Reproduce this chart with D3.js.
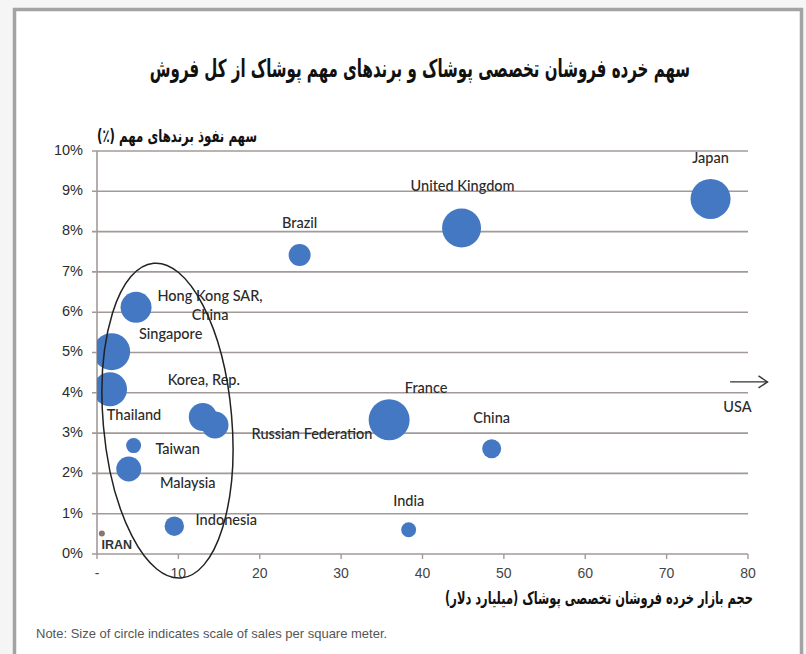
<!DOCTYPE html>
<html>
<head>
<meta charset="utf-8">
<script src="https://cdn.jsdelivr.net/npm/d3@7"></script>
<style>
  body { margin: 0; background: #f5f5f5; }
  svg { display: block; }
</style>
</head>
<body>
<div id="chart"></div>
<script>
/* CONSTANTS AND GLOBALS */
const width = 806, height = 654;
const plot = { left: 97, right: 748, top: 151, bottom: 554 };

/* DATA */
const countries = ["Japan", "United Kingdom", "Brazil", "France", "China", "India",
  "Hong Kong SAR, China", "Singapore", "Thailand", "Korea, Rep.", "Russian Federation",
  "Taiwan", "Malaysia", "Indonesia", "IRAN"];
// apparel specialty retail market size (billion $)
const marketSize = [75.4, 44.8, 24.9, 35.9, 48.5, 38.3, 4.8, 1.8, 1.6, 13.0, 14.5, 4.5, 3.9, 9.5, 0.6];
// share of major brands (%)
const brandShare = [8.81, 8.09, 7.42, 3.33, 2.61, 0.60, 6.12, 5.02, 4.09, 3.40, 3.20, 2.69, 2.11, 0.69, 0.51];
// sales per square meter (relative, drives circle area)
const salesPerSqm = [400, 380, 121, 420, 90, 56, 240, 342, 289, 196, 182, 56, 156, 94, 9];

const xTicks = [0, 10, 20, 30, 40, 50, 60, 70, 80];
const xTickLabels = ["-", "10", "20", "30", "40", "50", "60", "70", "80"];
const yTicks = [0, 1, 2, 3, 4, 5, 6, 7, 8, 9, 10];

const title = "سهم خرده فروشان تخصصی پوشاک و برندهای مهم پوشاک از کل فروش";
const yTitle = "سهم نفوذ برندهای مهم (٪)";
const xTitle = "حجم بازار خرده فروشان تخصصی پوشاک (میلیارد دلار)";
const note = "Note: Size of circle indicates scale of sales per square meter.";

const data = countries.map((c, i) => ({
  name: c, x: marketSize[i], y: brandShare[i], s: salesPerSqm[i]
}));

// label placement relative to the bubble (px)
const labelPos = {
  "Japan": [0, -40], "United Kingdom": [1, -41], "Brazil": [0, -31],
  "France": [37, -31], "China": [0, -30], "India": [0, -28],
  "Hong Kong SAR, China": [74, -10], "Singapore": [59, -17], "Thailand": [24, 27],
  "Korea, Rep.": [1, -36], "Russian Federation": [97, 10], "Taiwan": [44, 4.5],
  "Malaysia": [59, 15], "Indonesia": [52, -5], "IRAN": [15, 12.5]
};

/* SCALES */
const xScale = d3.scaleLinear().domain([0, 80]).range([plot.left, plot.right]);
const yScale = d3.scaleLinear().domain([0, 10]).range([plot.bottom, plot.top]);
const rScale = d3.scaleSqrt().domain([0, 420]).range([0, 20.5]);

/* ELEMENTS */
const svg = d3.select("#chart").append("svg")
  .attr("width", width)
  .attr("height", height);

// frame
svg.append("rect")
  .attr("x", 14.5).attr("y", 9.5)
  .attr("width", 787).attr("height", 670)
  .attr("fill", "white")
  .attr("stroke", "#a3a3a3")
  .attr("stroke-width", 3.5);

svg.append("clipPath").attr("id", "plotclip")
  .append("rect")
  .attr("x", plot.left).attr("y", plot.top - 30)
  .attr("width", plot.right - plot.left).attr("height", plot.bottom - plot.top + 30);

// persian text: fit to a width, then stretch up so it looks like the original face
function persian(txt, cx, cy, targetWidth, stretch) {
  const g = svg.append("g")
    .attr("transform", `translate(${cx},${cy}) scale(1,${stretch})`);
  const t = g.append("text")
    .attr("text-anchor", "middle")
    .attr("dominant-baseline", "middle")
    .attr("direction", "rtl")
    .attr("font-family", "DejaVu Sans")
    .attr("font-weight", "bold")
    .attr("font-size", 20)
    .attr("fill", "#111")
    .text(txt);
  const len = t.node().getComputedTextLength();
  t.attr("font-size", 20 * targetWidth / len);
}

persian(title, 420, 70, 540, 1.65);
persian(yTitle, 177, 137, 160, 1.5);
persian(xTitle, 599, 599, 308, 1.55);

svg.append("text")
  .attr("x", 36).attr("y", 635)
  .attr("dominant-baseline", "middle")
  .attr("font-family", "Liberation Sans, Arial")
  .attr("font-size", 13)
  .attr("fill", "#555")
  .text(note);

/* GRID + AXES */
svg.selectAll("line.grid")
  .data(yTicks)
  .join("line")
  .attr("class", "grid")
  .attr("x1", plot.left - 5).attr("x2", plot.right)
  .attr("y1", d => yScale(d)).attr("y2", d => yScale(d))
  .attr("stroke", "#a29a98")
  .attr("stroke-width", 1.6);

svg.append("line")
  .attr("x1", plot.left).attr("x2", plot.left)
  .attr("y1", plot.top).attr("y2", plot.bottom)
  .attr("stroke", "#a29a98").attr("stroke-width", 1.6);

svg.selectAll("line.xtick")
  .data(xTicks)
  .join("line")
  .attr("class", "xtick")
  .attr("x1", d => xScale(d)).attr("x2", d => xScale(d))
  .attr("y1", plot.bottom).attr("y2", plot.bottom + 5)
  .attr("stroke", "#a29a98").attr("stroke-width", 1.4);

svg.selectAll("text.ylab")
  .data(yTicks)
  .join("text")
  .attr("class", "ylab")
  .attr("x", 83).attr("y", d => yScale(d))
  .attr("text-anchor", "end")
  .attr("dominant-baseline", "middle")
  .attr("font-family", "Liberation Sans, Arial")
  .attr("font-size", 14.5)
  .attr("fill", "#2b2b2b")
  .text(d => d + "%");

svg.selectAll("text.xlab")
  .data(xTicks)
  .join("text")
  .attr("class", "xlab")
  .attr("x", d => xScale(d)).attr("y", 574)
  .attr("text-anchor", "middle")
  .attr("dominant-baseline", "middle")
  .attr("font-family", "Liberation Sans, Arial")
  .attr("font-size", 14)
  .attr("fill", "#444")
  .text((d, i) => xTickLabels[i]);

/* BUBBLES */
svg.append("g")
  .attr("clip-path", "url(#plotclip)")
  .selectAll("circle")
  .data(data)
  .join("circle")
  .attr("cx", d => xScale(d.x))
  .attr("cy", d => yScale(d.y))
  .attr("r", d => rScale(d.s))
  .attr("fill", d => d.name === "IRAN" ? "#8a7670" : "#4578c2");

/* LABELS */
svg.selectAll("text.label")
  .data(data)
  .join("text")
  .attr("class", "label")
  .attr("x", d => xScale(d.x) + labelPos[d.name][0])
  .attr("y", d => yScale(d.y) + labelPos[d.name][1])
  .attr("text-anchor", "middle")
  .attr("dominant-baseline", "middle")
  .attr("font-family", d => d.name === "IRAN" ? "Liberation Sans, Arial" : "Lato")
  .attr("font-size", d => d.name === "IRAN" ? 12.5 : 14.5)
  .attr("fill", d => d.name === "IRAN" ? "#333" : "#2a2a2a")
  .style("font-weight", d => d.name === "IRAN" ? "bold" : "500")
  .each(function(d) {
    const lines = d.name === "Hong Kong SAR, China" ? ["Hong Kong SAR,", "China"] : [d.name];
    d3.select(this).selectAll("tspan")
      .data(lines)
      .join("tspan")
      .attr("x", xScale(d.x) + labelPos[d.name][0])
      .attr("dy", (l, i) => i === 0 ? 0 : 19)
      .text(l => l);
  });

/* ANNOTATIONS */
// ellipse round the small markets
const ell = { x: 8.66, y: 3.31, rx: 7.9, ry: 3.92 };
svg.append("ellipse")
  .attr("transform", `translate(${xScale(ell.x)},${yScale(ell.y)}) rotate(-5)`)
  .attr("rx", xScale(ell.rx) - xScale(0))
  .attr("ry", yScale(0) - yScale(ell.ry))
  .attr("fill", "none")
  .attr("stroke", "#222")
  .attr("stroke-width", 1.5);

// USA off the chart
const usa = { x1: 77.8, x2: 82.4, y: 4.27, lx: 78.7, ly: 3.62 };
svg.append("line")
  .attr("x1", xScale(usa.x1)).attr("x2", xScale(usa.x2))
  .attr("y1", yScale(usa.y)).attr("y2", yScale(usa.y))
  .attr("stroke", "#333").attr("stroke-width", 1.4);
svg.append("path")
  .attr("d", `M${xScale(usa.x2) - 9},${yScale(usa.y) - 6} L${xScale(usa.x2)},${yScale(usa.y)} L${xScale(usa.x2) - 9},${yScale(usa.y) + 6}`)
  .attr("fill", "none")
  .attr("stroke", "#333").attr("stroke-width", 1.4);
svg.append("text")
  .attr("x", xScale(usa.lx)).attr("y", yScale(usa.ly))
  .attr("text-anchor", "middle")
  .attr("dominant-baseline", "middle")
  .attr("font-family", "Lato")
  .attr("font-size", 14.5)
  .style("font-weight", "500")
  .attr("fill", "#2a2a2a")
  .text("USA");
</script>
</body>
</html>
